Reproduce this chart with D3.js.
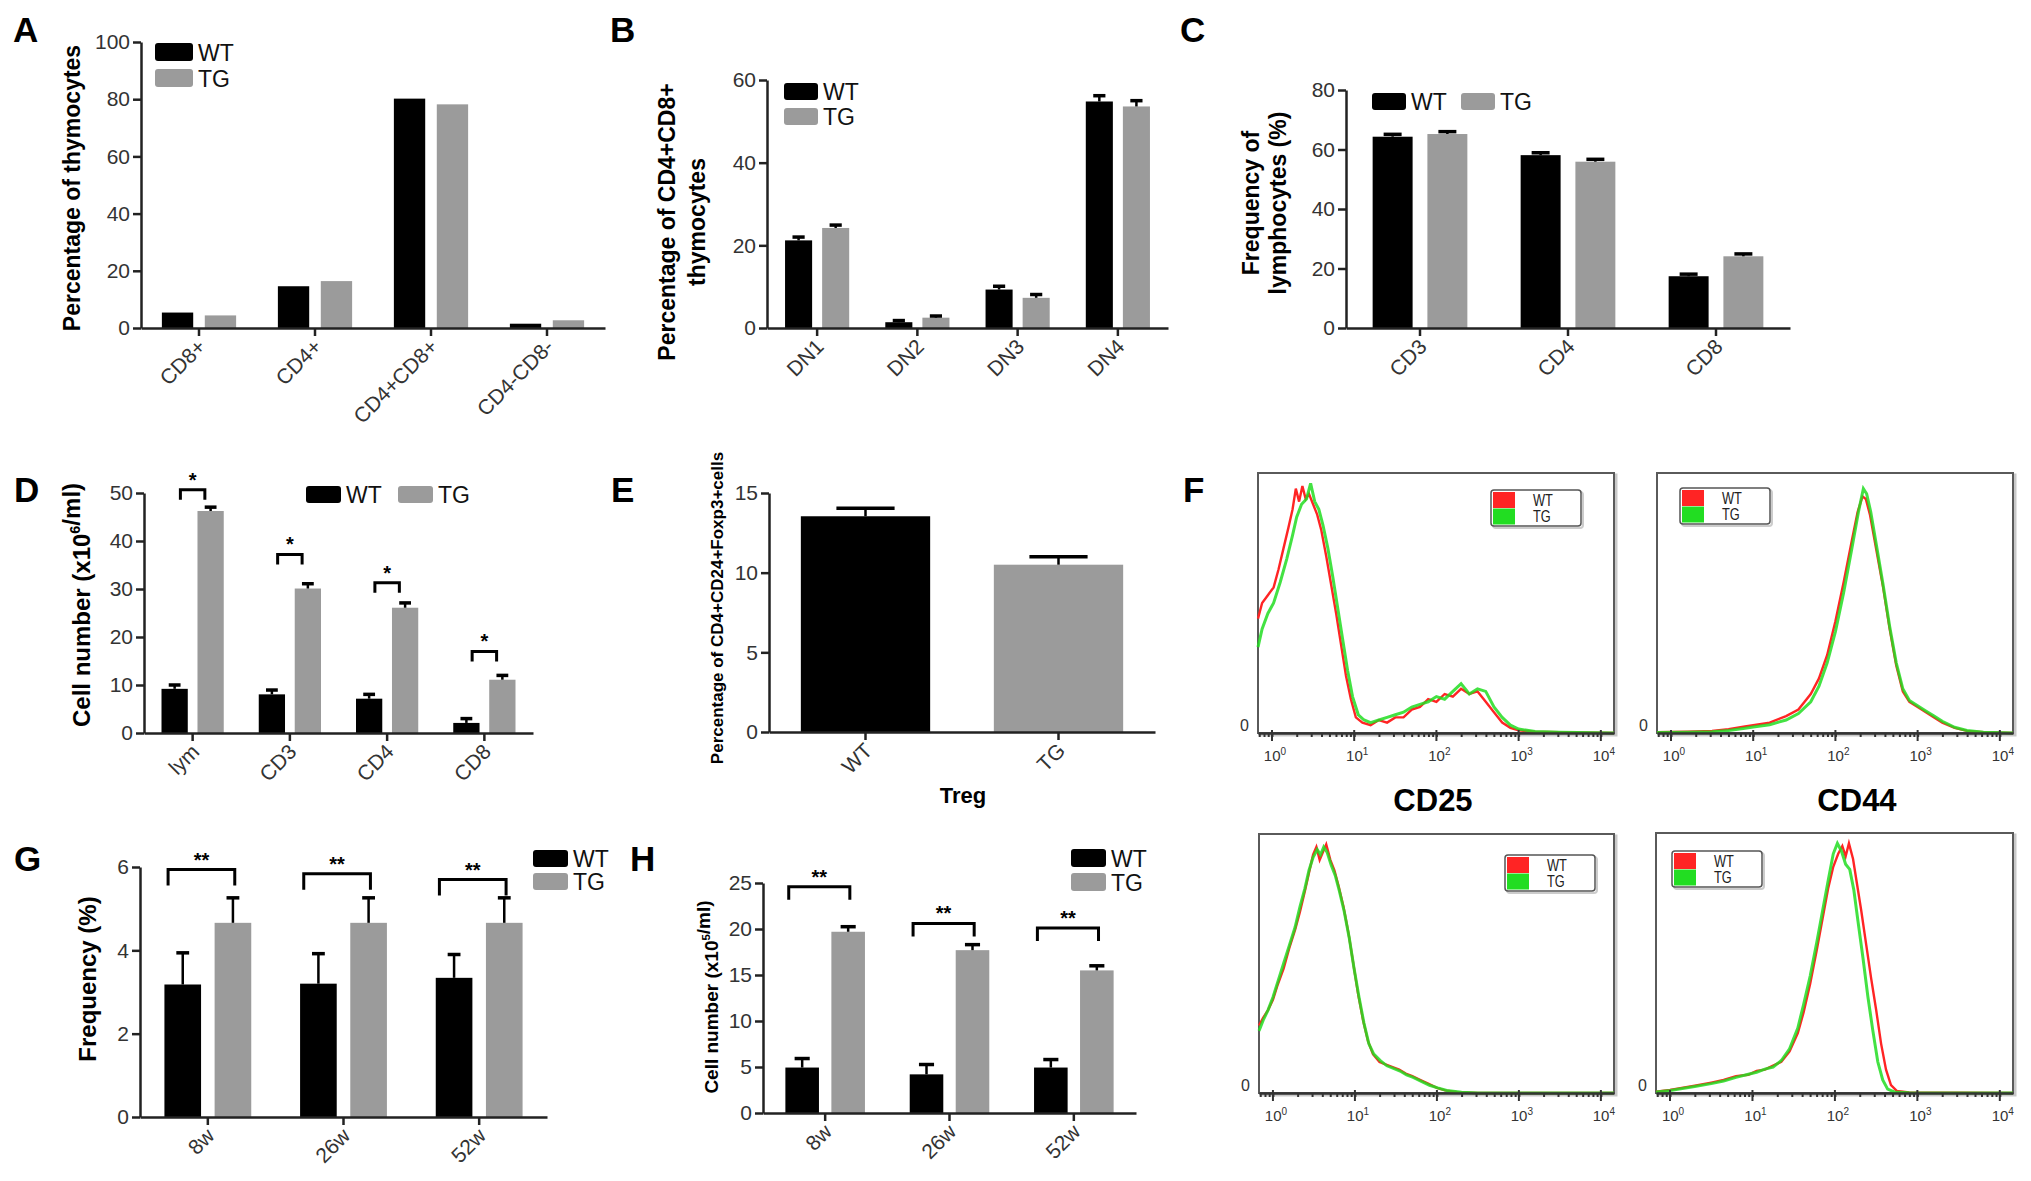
<!DOCTYPE html>
<html>
<head>
<meta charset="utf-8">
<script src="https://cdn.jsdelivr.net/npm/d3@7"></script>
<style>
  body { margin: 0; background: #fff; }
  text { font-family: "Liberation Sans", Arial, sans-serif; }
</style>
</head>
<body>
<svg id="fig" width="2031" height="1181"></svg>
<script>
// ---- data ----
const seriesNames = ["WT", "TG"];

// A: thymocyte subsets (%)
const catA = ["CD8+", "CD4+", "CD4+CD8+", "CD4-CD8-"];
const wtA = [5.4, 14.6, 80.2, 1.5];
const tgA = [4.4, 16.4, 78.2, 2.7];
const ticksA = [0, 20, 40, 60, 80, 100];

// B: DN stages
const catB = ["DN1", "DN2", "DN3", "DN4"];
const wtB = [21.2, 1.4, 9.3, 54.8];
const wtBerr = [0.8, 0.4, 0.8, 1.4];
const tgB = [24.2, 2.5, 7.3, 53.6];
const tgBerr = [0.7, 0.4, 0.8, 1.4];
const ticksB = [0, 20, 40, 60];

// C: lymphocyte frequency (%)
const catC = ["CD3", "CD4", "CD8"];
const wtC = [64.3, 58.1, 17.4];
const wtCerr = [0.8, 0.8, 0.7];
const tgC = [65.2, 55.9, 24.1];
const tgCerr = [0.8, 0.8, 0.8];
const ticksC = [0, 20, 40, 60, 80];

// D: cell number (x10^6/ml)
const catD = ["lym", "CD3", "CD4", "CD8"];
const wtD = [9.2, 8.05, 7.15, 2.1];
const wtDerr = [0.8, 0.9, 0.9, 0.9];
const tgD = [46.25, 30.1, 26.1, 11.1];
const tgDerr = [0.8, 1.0, 1.0, 0.9];
const sigD = [50.7, 37.2, 31.3, 17.0];
const ticksD = [0, 10, 20, 30, 40, 50];

// E: Treg
const catE = ["WT", "TG"];
const valE = [13.54, 10.5];
const errE = [0.5, 0.5];
const ticksE = [0, 5, 10, 15];

// G: frequency (%) by age
const catG = ["8w", "26w", "52w"];
const wtG = [3.18, 3.2, 3.34];
const wtGerr = [0.76, 0.72, 0.56];
const tgG = [4.66, 4.66, 4.66];
const tgGerr = [0.6, 0.6, 0.6];
const sigG = [5.94, 5.84, 5.7];
const ticksG = [0, 2, 4, 6];

// H: cell number (x10^5/ml) by age
const catH = ["8w", "26w", "52w"];
const wtH = [4.94, 4.2, 4.94];
const wtHerr = [0.98, 1.07, 0.87];
const tgH = [19.7, 17.7, 15.5];
const tgHerr = [0.55, 0.6, 0.5];
const sigH = [24.6, 20.6, 20.1];
const ticksH = [0, 5, 10, 15, 20, 25];

// F: flow histograms, [log10 intensity, % of max]
const cd25TopWT = [[-0.17,44],[-0.12,50],[-0.05,53],[0.02,56],[0.08,63],[0.14,71],[0.2,79],[0.25,86],[0.29,94],[0.33,89],[0.37,95],[0.41,90],[0.45,92],[0.5,88],[0.55,84],[0.6,78],[0.66,68],[0.72,57],[0.78,46],[0.84,34],[0.9,22],[0.96,13],[1.02,6],[1.1,4],[1.2,3],[1.3,5],[1.4,4],[1.5,6],[1.6,6],[1.7,9],[1.8,10],[1.9,13],[2.0,12],[2.1,15],[2.2,14],[2.3,17],[2.4,15],[2.5,16],[2.6,12],[2.7,8],[2.8,4],[2.9,2],[3.0,1],[3.2,0.5],[3.5,0.3],[4.16,0]];
const cd25TopTG = [[-0.17,33],[-0.12,40],[-0.05,46],[0.02,50],[0.1,58],[0.18,67],[0.25,76],[0.3,83],[0.36,88],[0.42,90],[0.47,96],[0.52,89],[0.57,86],[0.62,80],[0.68,71],[0.74,60],[0.8,48],[0.86,36],[0.92,24],[0.98,14],[1.05,7],[1.12,5],[1.2,4],[1.3,5],[1.4,6],[1.5,7],[1.6,8],[1.7,10],[1.8,11],[1.9,12],[2.0,14],[2.1,13],[2.2,16],[2.3,19],[2.4,15],[2.5,17],[2.6,16],[2.7,10],[2.8,6],[2.9,3],[3.0,1.5],[3.2,0.6],[3.5,0.3],[4.16,0]];
const cd44TopWT = [[-0.17,0.3],[0.2,0.5],[0.5,0.8],[0.7,1.5],[0.9,2.5],[1.0,3],[1.2,4],[1.4,6.5],[1.55,9],[1.7,15],[1.8,21],[1.9,30],[2.0,43],[2.1,58],[2.2,74],[2.27,85],[2.33,91],[2.37,90],[2.42,84],[2.5,70],[2.58,56],[2.66,40],[2.74,26],[2.82,16],[2.9,12],[3.0,10],[3.1,8],[3.2,6],[3.3,4],[3.45,2],[3.6,0.8],[3.8,0.3],[4.16,0]];
const cd44TopTG = [[-0.17,0.2],[0.2,0.3],[0.5,0.5],[0.7,1],[0.9,1.8],[1.0,2.3],[1.2,3.2],[1.4,5],[1.55,7.5],[1.7,12],[1.8,18],[1.9,27],[2.0,39],[2.1,54],[2.2,71],[2.28,85],[2.34,94],[2.38,92],[2.43,85],[2.5,72],[2.58,57],[2.66,41],[2.74,27],[2.82,17],[2.9,12.5],[3.0,10.5],[3.1,8.5],[3.2,6.5],[3.3,4.5],[3.45,2.2],[3.6,1],[3.8,0.3],[4.16,0]];
const cd25BotWT = [[-0.17,26],[-0.12,29],[-0.06,32],[0.0,36],[0.06,42],[0.13,48],[0.2,56],[0.27,63],[0.33,70],[0.39,78],[0.44,85],[0.49,92],[0.53,95],[0.57,90],[0.61,93],[0.65,96],[0.7,90],[0.75,86],[0.8,80],[0.86,72],[0.92,62],[0.98,50],[1.04,38],[1.1,28],[1.16,20],[1.22,15],[1.3,12],[1.38,11],[1.46,10],[1.54,9],[1.62,7.5],[1.7,6.5],[1.8,5],[1.9,3.5],[2.0,2],[2.1,1],[2.25,0.3],[2.5,0],[4.16,0]];
const cd25BotTG = [[-0.17,24],[-0.12,28],[-0.06,32],[0.0,37],[0.06,43],[0.13,50],[0.2,57],[0.27,64],[0.33,72],[0.39,79],[0.44,86],[0.49,91],[0.54,94],[0.58,92],[0.62,95],[0.66,93],[0.71,88],[0.76,84],[0.81,78],[0.87,70],[0.93,60],[0.99,48],[1.05,37],[1.11,27],[1.17,19],[1.23,15],[1.31,12.5],[1.39,10.5],[1.47,9.5],[1.55,8.5],[1.63,7],[1.71,6],[1.81,4.5],[1.91,3],[2.01,2],[2.12,1],[2.3,0.3],[2.5,0],[4.16,0]];
const cd44BotWT = [[-0.17,0.5],[0,1.2],[0.3,2.8],[0.5,4],[0.65,5],[0.8,6.5],[0.95,7],[1.05,8.5],[1.15,9],[1.25,10.5],[1.35,12],[1.45,16],[1.55,23],[1.62,31],[1.7,42],[1.78,55],[1.85,67],[1.92,79],[1.98,87],[2.04,92],[2.09,95],[2.13,91],[2.17,96],[2.22,90],[2.27,80],[2.32,70],[2.38,57],[2.44,44],[2.5,32],[2.56,19],[2.62,9],[2.68,3],[2.75,0.8],[2.9,0.2],[4.16,0]];
const cd44BotTG = [[-0.17,0.4],[0,1],[0.3,2.5],[0.5,3.6],[0.65,4.6],[0.8,6],[0.95,7.2],[1.05,8],[1.15,9.2],[1.25,10],[1.35,12.5],[1.45,17],[1.55,25],[1.62,34],[1.7,45],[1.78,58],[1.85,70],[1.92,82],[1.98,92],[2.03,96],[2.08,93],[2.13,88],[2.18,86],[2.23,78],[2.28,66],[2.34,52],[2.4,37],[2.46,24],[2.52,12],[2.58,5],[2.64,1.5],[2.72,0.4],[2.9,0.1],[4.16,0]];
const flowDecades = [0, 1, 2, 3, 4];

const WT_COLOR = "#000";
const TG_COLOR = "#9b9b9b";
const svg = d3.select("#fig");

function letter(t, x, y) {
  svg.append("text").attr("x", x).attr("y", y).text(t)
    .attr("font-size", 35).attr("font-weight", "bold");
}

// rotated axis title; parts may contain superscripts
function yTitle(parts, x, y, size) {
  const t = svg.append("text")
    .attr("transform", `translate(${x},${y}) rotate(-90)`)
    .attr("text-anchor", "middle").attr("font-size", size).attr("font-weight", "bold");
  parts.forEach(p => {
    if (p.sup) {
      t.append("tspan").text(p.sup).attr("font-size", size * 0.6).attr("dy", -size * 0.4);
      t.append("tspan").attr("dy", size * 0.4).text("");
    } else {
      t.append("tspan").text(p.t);
    }
  });
}

function barPanel(o) {
  const g = svg.append("g");
  const x = d3.scaleBand().domain(o.cats).range([o.x0, o.x1]);
  const y = d3.scaleLinear().domain([0, o.max]).range([o.y0, o.yTop]);
  const names = o.series.map(s => s.name);
  const pair = x.step() * (o.frac || 0.64);
  const sub = d3.scaleBand().domain(names).range([-pair / 2, pair / 2])
    .paddingInner(names.length > 1 ? 0.27 : 0);
  const bw = sub.bandwidth();
  const cx = c => x(c) + x.bandwidth() / 2;

  o.series.forEach(s => {
    g.selectAll(null).data(o.cats).join("rect")
      .attr("x", c => cx(c) + sub(s.name))
      .attr("y", (c, i) => y(s.vals[i]))
      .attr("width", bw)
      .attr("height", (c, i) => o.y0 - y(s.vals[i]))
      .attr("fill", (c, i) => s.colors ? s.colors[i] : s.color);
    if (!s.err) return;
    const ex = c => cx(c) + sub(s.name) + bw / 2;
    const cap = bw * (o.cap || 0.45);
    g.selectAll(null).data(o.cats).join("line")
      .attr("x1", ex).attr("x2", ex)
      .attr("y1", (c, i) => y(s.vals[i]))
      .attr("y2", (c, i) => y(s.vals[i] + s.err[i]))
      .attr("stroke", "#000").attr("stroke-width", 2.5);
    g.selectAll(null).data(o.cats).join("line")
      .attr("x1", c => ex(c) - cap / 2).attr("x2", c => ex(c) + cap / 2)
      .attr("y1", (c, i) => y(s.vals[i] + s.err[i]))
      .attr("y2", (c, i) => y(s.vals[i] + s.err[i]))
      .attr("stroke", "#000").attr("stroke-width", 3.5);
  });

  if (o.sig) {
    const wtX = c => cx(c) + sub(names[0]);
    const tgX = c => cx(c) + sub(names[1]);
    const xl = c => o.sig.mode === "inner"
      ? (wtX(c) + tgX(c) + bw) / 2 - 0.34 * (tgX(c) - wtX(c))
      : wtX(c) + 0.1 * bw;
    const xr = c => o.sig.mode === "inner"
      ? (wtX(c) + tgX(c) + bw) / 2 + 0.34 * (tgX(c) - wtX(c))
      : tgX(c) + 0.55 * bw;
    g.selectAll(null).data(o.cats).join("path")
      .attr("d", (c, i) => {
        const yt = y(o.sig.tops[i]);
        return `M${xl(c)},${yt + o.sig.leg}V${yt}H${xr(c)}V${yt + o.sig.leg}`;
      })
      .attr("fill", "none").attr("stroke", "#000").attr("stroke-width", 3);
    g.selectAll(null).data(o.cats).join("text")
      .attr("x", c => (xl(c) + xr(c)) / 2)
      .attr("y", (c, i) => y(o.sig.tops[i]) - 3)
      .attr("text-anchor", "middle").attr("font-size", o.sig.size)
      .attr("font-weight", "bold").text(o.sig.label);
  }

  const ya = g.append("g").attr("transform", `translate(${o.x0},0)`)
    .call(d3.axisLeft(y).tickValues(o.ticks).tickFormat(d3.format("d"))
      .tickSize(8).tickSizeOuter(0).tickPadding(3));
  const xa = g.append("g").attr("transform", `translate(0,${o.y0})`)
    .call(d3.axisBottom(x).tickSize(8).tickSizeOuter(0));
  [ya, xa].forEach(a => {
    a.selectAll("path, line").attr("stroke", "#222").attr("stroke-width", 2.5);
    a.selectAll("text").attr("font-size", 21).attr("fill", "#333")
      .attr("font-family", "Liberation Sans, Arial, sans-serif");
  });
  xa.selectAll("text")
    .attr("x", 0).attr("y", 0).attr("dy", 0)
    .attr("transform", "translate(8,20) rotate(-45)")
    .attr("text-anchor", "end");

  // legend
  (o.legend ? o.legend.items : []).forEach((it, i) => {
    const s = o.series[i];
    g.append("rect").attr("x", it[0]).attr("y", it[1])
      .attr("width", o.legend.w).attr("height", o.legend.h).attr("rx", 3)
      .attr("fill", s.color);
    g.append("text").attr("x", it[0] + o.legend.w + 5).attr("y", it[1] + o.legend.h)
      .attr("font-size", 23).attr("fill", "#111").text(s.name);
  });
}

function flowPanel(p) {
  const [bx0, by0, bx1, by1] = p.box;
  const g = svg.append("g");
  const x = d3.scaleLog().domain([10 ** -0.17, 10 ** 4.16]).range([bx0, bx1]);
  const y = d3.scaleLinear().domain([0, 100]).range([by1, by0]);
  g.append("rect").attr("x", bx0 + 2).attr("y", by0 + 2)
    .attr("width", bx1 - bx0).attr("height", by1 - by0)
    .attr("fill", "none").attr("stroke", "#c9c9c9").attr("stroke-width", 3);
  g.append("rect").attr("x", bx0).attr("y", by0)
    .attr("width", bx1 - bx0).attr("height", by1 - by0)
    .attr("fill", "#fff").attr("stroke", "#5a5a5a").attr("stroke-width", 2);
  const line = d3.line().x(d => x(10 ** d[0])).y(d => y(d[1]));
  g.append("path").datum(p.wt).attr("d", line).attr("fill", "none")
    .attr("stroke", "#ff2424").attr("stroke-width", 2.4);
  g.append("path").datum(p.tg).attr("d", line).attr("fill", "none")
    .attr("stroke", "#22dd22").attr("stroke-width", 3).attr("opacity", 0.85);

  const ax = g.append("g").attr("transform", `translate(0,${by1})`)
    .call(d3.axisBottom(x).tickValues(x.ticks()).tickSize(4).tickFormat("").tickSizeOuter(0));
  ax.selectAll("path, line").attr("stroke", "#333").attr("stroke-width", 2);
  ax.select("path").attr("stroke-width", 2.5);
  g.selectAll(null).data(flowDecades).join("line")
    .attr("x1", d => x(10 ** d)).attr("x2", d => x(10 ** d))
    .attr("y1", by1 - 3).attr("y2", by1 + 8)
    .attr("stroke", "#333").attr("stroke-width", 2);
  const lbl = g.selectAll(null).data(flowDecades).join("text")
    .attr("x", d => x(10 ** d) + 3).attr("y", by1 + 28)
    .attr("text-anchor", "middle").attr("font-size", 15).attr("fill", "#333");
  lbl.append("tspan").text("10");
  lbl.append("tspan").text(d => d).attr("font-size", 10).attr("dy", -6);
  g.append("text").attr("x", bx0 - 9).attr("y", by1 - 2)
    .attr("text-anchor", "end").attr("font-size", 16).attr("fill", "#333").text("0");

  // inner legend
  const [lx, ly] = p.legend;
  g.append("rect").attr("x", lx + 2).attr("y", ly + 2).attr("width", 90).attr("height", 36)
    .attr("rx", 3).attr("fill", "none").attr("stroke", "#ccc").attr("stroke-width", 2);
  g.append("rect").attr("x", lx).attr("y", ly).attr("width", 90).attr("height", 36)
    .attr("rx", 3).attr("fill", "#fff").attr("stroke", "#555").attr("stroke-width", 1.5);
  [["WT", "#ff2424"], ["TG", "#22dd22"]].forEach((d, i) => {
    g.append("rect").attr("x", lx + 2).attr("y", ly + 2 + i * 16.5)
      .attr("width", 22).attr("height", 16).attr("fill", d[1]);
    g.append("text").attr("x", lx + 42).attr("y", ly + 16 + i * 16.5)
      .attr("font-size", 16).attr("fill", "#222")
      .attr("transform", `translate(${(lx + 42) * 0.2},0) scale(0.8,1)`)
      .text(d[0]);
  });
}

// ---- panels ----
letter("A", 13, 42); letter("B", 610, 42); letter("C", 1180, 42);
letter("D", 14, 502); letter("E", 611, 502); letter("F", 1183, 502);
letter("G", 14, 871); letter("H", 630, 871);

barPanel({
  cats: catA, x0: 141, x1: 605, y0: 328, yTop: 42, max: 100, ticks: ticksA,
  series: [{ name: "WT", vals: wtA, color: WT_COLOR }, { name: "TG", vals: tgA, color: TG_COLOR }],
  legend: { w: 38, h: 18, items: [[155, 43], [155, 69]] }
});
yTitle([{ t: "Percentage of thymocytes" }], 80, 188, 23);

barPanel({
  cats: catB, x0: 767, x1: 1168, y0: 328, yTop: 80, max: 60, ticks: ticksB,
  series: [{ name: "WT", vals: wtB, err: wtBerr, color: WT_COLOR },
           { name: "TG", vals: tgB, err: tgBerr, color: TG_COLOR }],
  legend: { w: 34, h: 17, items: [[784, 83], [784, 108]] }
});
yTitle([{ t: "Percentage of CD4+CD8+" }], 675, 222, 23);
yTitle([{ t: "thymocytes" }], 705, 222, 23);

barPanel({
  cats: catC, x0: 1346, x1: 1790, y0: 328, yTop: 90, max: 80, ticks: ticksC,
  series: [{ name: "WT", vals: wtC, err: wtCerr, color: WT_COLOR },
           { name: "TG", vals: tgC, err: tgCerr, color: TG_COLOR }],
  legend: { w: 34, h: 17, items: [[1372, 93], [1461, 93]] }
});
yTitle([{ t: "Frequency of" }], 1259, 203, 23);
yTitle([{ t: "lymphocytes (%)" }], 1286, 203, 23);

barPanel({
  cats: catD, x0: 144, x1: 533, y0: 733, yTop: 493, max: 50, ticks: ticksD,
  series: [{ name: "WT", vals: wtD, err: wtDerr, color: WT_COLOR },
           { name: "TG", vals: tgD, err: tgDerr, color: TG_COLOR }],
  sig: { tops: sigD, leg: 10, mode: "inner", label: "*", size: 20 },
  legend: { w: 35, h: 17, items: [[306, 486], [398, 486]] }
});
yTitle([{ t: "Cell number (x10" }, { sup: "6" }, { t: "/ml)" }], 90, 605, 24);

barPanel({
  cats: catE, x0: 769, x1: 1155, y0: 732, yTop: 493, max: 15, ticks: ticksE, frac: 0.67,
  series: [{ name: "Treg", vals: valE, err: errE, color: WT_COLOR, colors: [WT_COLOR, TG_COLOR] }]
});
yTitle([{ t: "Percentage of CD4+CD24+Foxp3+cells" }], 723, 608, 17);
svg.append("text").attr("x", 963).attr("y", 803).attr("text-anchor", "middle")
  .attr("font-size", 22).attr("font-weight", "bold").text("Treg");

barPanel({
  cats: catG, x0: 140, x1: 547, y0: 1117, yTop: 867, max: 6, ticks: ticksG,
  series: [{ name: "WT", vals: wtG, err: wtGerr, color: WT_COLOR },
           { name: "TG", vals: tgG, err: tgGerr, color: TG_COLOR }],
  sig: { tops: sigG, leg: 16, mode: "left", label: "**", size: 20 },
  cap: 0.35,
  legend: { w: 35, h: 17, items: [[533, 850], [533, 873]] }
});
yTitle([{ t: "Frequency (%)" }], 96, 979, 24);

barPanel({
  cats: catH, x0: 763, x1: 1136, y0: 1113, yTop: 883, max: 25, ticks: ticksH,
  series: [{ name: "WT", vals: wtH, err: wtHerr, color: WT_COLOR },
           { name: "TG", vals: tgH, err: tgHerr, color: TG_COLOR }],
  sig: { tops: sigH, leg: 13, mode: "left", label: "**", size: 20 },
  cap: 0.45,
  legend: { w: 35, h: 18, items: [[1071, 849], [1071, 873]] }
});
yTitle([{ t: "Cell number (x10" }, { sup: "5" }, { t: "/ml)" }], 718, 997, 19);

[
  { wt: cd25TopWT, tg: cd25TopTG, box: [1258, 473, 1614, 733], legend: [1491, 490] },
  { wt: cd44TopWT, tg: cd44TopTG, box: [1657, 473, 2013, 733], legend: [1680, 488] },
  { wt: cd25BotWT, tg: cd25BotTG, box: [1259, 834, 1614, 1093], legend: [1505, 855] },
  { wt: cd44BotWT, tg: cd44BotTG, box: [1656, 833, 2013, 1093], legend: [1672, 851] }
].forEach(flowPanel);

svg.append("text").attr("x", 1433).attr("y", 811).attr("text-anchor", "middle")
  .attr("font-size", 31).attr("font-weight", "bold").text("CD25");
svg.append("text").attr("x", 1857).attr("y", 811).attr("text-anchor", "middle")
  .attr("font-size", 31).attr("font-weight", "bold").text("CD44");
</script>
</body>
</html>
